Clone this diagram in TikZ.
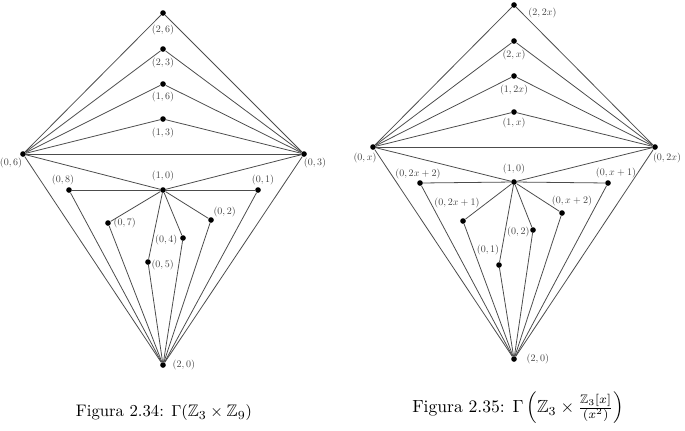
\documentclass[tikz,border=0pt]{standalone}
\usepackage{amsmath, amssymb}
\usepackage{graphicx}
\usepackage{tikz}
\usetikzlibrary{positioning}

\newcommand{\vlab}[1]{\scalebox{0.57}{$#1$}}

\tikzset{
  vert/.style={circle, fill=black, inner sep=0pt, minimum size=3.2pt},
  lab/.style={text=black!75, inner sep=0pt},
  every label/.style={lab},
  edge/.style={line width=0.45pt, black!70}
}

\begin{document}
\begin{tikzpicture}[x=0.02cm, y=-0.02cm, label distance=0pt]
    \useasboundingbox (0,0) rectangle (685,430);
    % Gamma(Z3 x Z9)
    \node[vert, label={[label distance=4.6pt]below:\vlab{(2,6)}}] (a26) at (163,13) {};
    \node[vert, label={[label distance=2.9pt]below:\vlab{(2,3)}}] (a23) at (163,49) {};
    \node[vert, label={[label distance=2.4pt]below:\vlab{(1,6)}}] (a16) at (163,84) {};
    \node[vert, label={[label distance=2.9pt]below:\vlab{(1,3)}}] (a13) at (163,119) {};
    \node[vert, label={[xshift=-0.24cm]below:\vlab{(0,6)}}] (a06) at (23,154) {};
    \node[vert, label={[xshift=0.22cm]below:\vlab{(0,3)}}] (a03) at (304,154) {};
    \node[vert, label={[label distance=2.9pt]above:\vlab{(1,0)}}] (a10) at (163,190) {};
    \node[vert, label={[label distance=0.7pt, xshift=-0.12cm]above:\vlab{(0,8)}}] (a08) at (69,190) {};
    \node[vert, label={[label distance=0.7pt, xshift=0.1cm]above:\vlab{(0,1)}}] (a01) at (258,190) {};
    \node[vert, label={[label distance=1.2pt]right:\vlab{(0,7)}}] (a07) at (108,223) {};
    \node[vert, label={above right:\vlab{(0,2)}}] (a02) at (211,220) {};
    \node[vert, label={[label distance=1.2pt, yshift=-0.04cm]left:\vlab{(0,4)}}] (a04) at (183,238) {};
    \node[vert, label={[yshift=-0.05cm]right:\vlab{(0,5)}}] (a05) at (148,262) {};
    \node[vert, label={[label distance=3.5pt]right:\vlab{(2,0)}}] (a20) at (163,365) {};
    \draw[edge] (a06) -- (a26) -- (a03);
    \draw[edge] (a06) -- (a23) -- (a03);
    \draw[edge] (a06) -- (a16) -- (a03);
    \draw[edge] (a06) -- (a13) -- (a03);
    \draw[edge] (a06) -- (a03);
    \draw[edge] (a06) -- (a10) -- (a03);
    \draw[edge] (a06) -- (a20) -- (a03);
    \draw[edge] (a08) -- (a10) -- (a01);
    \draw[edge] (a07) -- (a10) -- (a02);
    \draw[edge] (a05) -- (a10) -- (a04);
    \draw[edge] (a08) -- (a20) -- (a01);
    \draw[edge] (a07) -- (a20) -- (a02);
    \draw[edge] (a05) -- (a20) -- (a04);
    \node[font=\fontsize{9.5}{11.4}\selectfont] (cap1) at (164,413) {Figura 2.34: $\Gamma(\mathbb{Z}_3\times\mathbb{Z}_9)$};
    % Gamma(Z3 x Z3[x]/(x^2))
    \node[vert, label={[label distance=6.2pt, yshift=-0.16cm]right:\vlab{(2,2x)}}] (b22x) at (514,5) {};
    \node[vert, label={[label distance=2.9pt]below:\vlab{(2,x)}}] (b2x) at (514,41) {};
    \node[vert, label={[label distance=2.9pt]below:\vlab{(1,2x)}}] (b12x) at (514,76) {};
    \node[vert, label={[label distance=1.2pt]below:\vlab{(1,x)}}] (b1x) at (514,112) {};
    \node[vert, label={[label distance=1.2pt, xshift=-0.16cm]below:\vlab{(0,x)}}] (b0x) at (373,147) {};
    \node[vert, label={[label distance=1.2pt, xshift=0.24cm]below:\vlab{(0,2x)}}] (b02x) at (655,147) {};
    \node[vert, label={[label distance=2.4pt]above:\vlab{(1,0)}}] (b10) at (514,182) {};
    \node[vert, label={[xshift=-0.04cm]above:\vlab{(0,2x+2)}}] (b02x2) at (420,183) {};
    \node[vert, label={[label distance=0.7pt, xshift=0.16cm]above:\vlab{(0,x+1)}}] (b0x1) at (608,183) {};
    \node[vert, label={[label distance=5.2pt, xshift=-0.12cm]above:\vlab{(0,2x+1)}}] (b02x1) at (463,221) {};
    \node[vert, label={[label distance=1.8pt, xshift=0.2cm]above:\vlab{(0,x+2)}}] (b0x2) at (562,213) {};
    \node[vert, label={[yshift=-0.04cm]left:\vlab{(0,2)}}] (b02) at (533,230) {};
    \node[vert, label={[label distance=3.5pt, xshift=-0.22cm]above:\vlab{(0,1)}}] (b01) at (499,265) {};
    \node[vert, label={[label distance=5.2pt]right:\vlab{(2,0)}}] (b20) at (514,359) {};
    \draw[edge] (b0x) -- (b22x) -- (b02x);
    \draw[edge] (b0x) -- (b2x) -- (b02x);
    \draw[edge] (b0x) -- (b12x) -- (b02x);
    \draw[edge] (b0x) -- (b1x) -- (b02x);
    \draw[edge] (b0x) -- (b02x);
    \draw[edge] (b0x) -- (b10) -- (b02x);
    \draw[edge] (b0x) -- (b20) -- (b02x);
    \draw[edge] (b02x2) -- (b10) -- (b0x1);
    \draw[edge] (b02x1) -- (b10) -- (b0x2);
    \draw[edge] (b01) -- (b10) -- (b02);
    \draw[edge] (b02x2) -- (b20) -- (b0x1);
    \draw[edge] (b02x1) -- (b20) -- (b0x2);
    \draw[edge] (b01) -- (b20) -- (b02);
    \node[font=\fontsize{10}{12}\selectfont] (cap2) at (518,408) {Figura 2.35: $\Gamma\left(\mathbb{Z}_3\times\frac{\mathbb{Z}_3[x]}{(x^2)}\right)$};
\end{tikzpicture}
\end{document}
